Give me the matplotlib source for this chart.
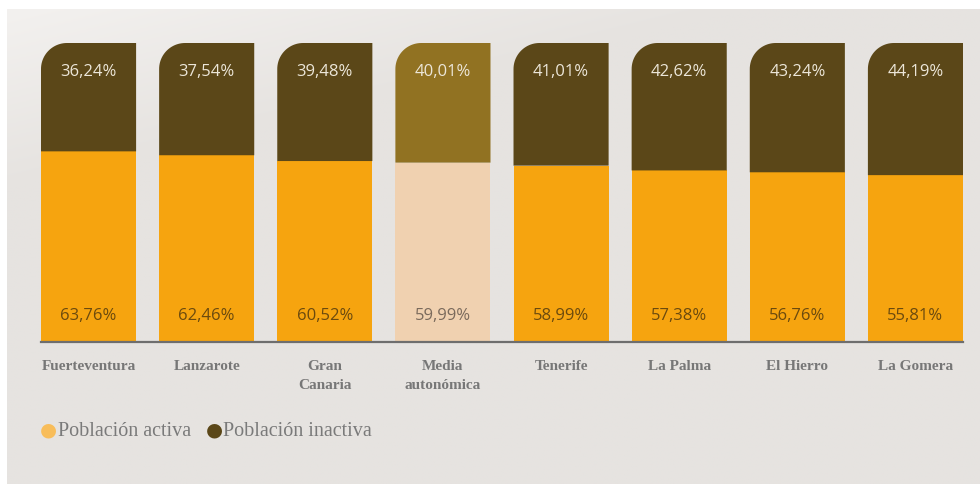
import matplotlib
matplotlib.use('Agg')
import matplotlib.pyplot as plt
import numpy as np
from matplotlib.patches import Polygon

# Datos
islas = ['Fuerteventura', 'Lanzarote', 'Gran\nCanaria', 'Media\nautonómica',
         'Tenerife', 'La Palma', 'El Hierro', 'La Gomera']
activa = [63.76, 62.46, 60.52, 59.99, 58.99, 57.38, 56.76, 55.81]
inactiva = [36.24, 37.54, 39.48, 40.01, 41.01, 42.62, 43.24, 44.19]
leyenda = ['Población activa', 'Población inactiva']

W, H = 980, 484
fig = plt.figure(figsize=(W / 100, H / 100), dpi=100)
fig.patch.set_facecolor('white')

# Fondo gris con un leve degradado
bg = fig.add_axes([7 / W, 0, 1 - 7 / W, (H - 9) / H])
gy, gx = np.mgrid[0:1:200j, 0:1:400j]
t = np.clip((gx * 0.6 + gy * 1.2) / 0.45, 0, 1)
c0 = np.array([0xf3, 0xf1, 0xef]) / 255
c1 = np.array([0xe6, 0xe3, 0xe0]) / 255
img = c0[None, None, :] * (1 - t[..., None]) + c1[None, None, :] * t[..., None]
bg.imshow(img, aspect='auto', extent=[0, 1, 0, 1], origin='upper')
bg.set_axis_off()

# Ejes principales
x0, x1 = 41, 963
ytop, ybase = 43, 342
ax = fig.add_axes([x0 / W, (H - ybase) / H, (x1 - x0) / W, (ybase - ytop) / H])
ax.patch.set_alpha(0)

x = np.arange(len(islas))
ancho = 95 / 118
ax.set_xlim(-ancho / 2, len(islas) - 1 + ancho / 2)
ax.set_ylim(0, 100)

col_act = ['#f6a40f'] * len(islas)
col_inact = ['#5b4718'] * len(islas)
col_act[3] = '#f0d1b0'
col_inact[3] = '#917222'

ax.bar(x, activa, width=ancho, color=col_act, edgecolor='none', zorder=2)
barras = ax.bar(x, inactiva, bottom=activa, width=ancho, color=col_inact,
                edgecolor='none', zorder=2)

# Esquina superior izquierda redondeada (radio en píxeles)
px_x = (x1 - x0) / (ax.get_xlim()[1] - ax.get_xlim()[0])
px_y = (ybase - ytop) / 100
r = 26
rx, ry = r / px_x, r / px_y
ang = np.linspace(np.pi, np.pi / 2, 24)
for b, c in zip(barras, col_inact):
    bx, by, bw, bh = b.get_x(), b.get_y(), b.get_width(), b.get_height()
    cx, cy = bx + rx, by + bh - ry
    arco = np.column_stack([cx + rx * np.cos(ang), cy + ry * np.sin(ang)])
    pts = np.vstack([[bx, by], arco, [bx + bw, by + bh], [bx + bw, by]])
    b.set_visible(False)
    ax.add_patch(Polygon(pts, closed=True, facecolor=c, edgecolor='none', zorder=2))

# Etiquetas de valores
for i in range(len(islas)):
    ax.text(x[i], 100 - 29 / px_y, f'{inactiva[i]:.2f}%'.replace('.', ','),
            ha='center', va='center', fontsize=12, family='Open Sans',
            color='#ece6d8', zorder=3)
    ax.text(x[i], 26 / px_y, f'{activa[i]:.2f}%'.replace('.', ','),
            ha='center', va='center', fontsize=12, family='Open Sans',
            color='#7a6a5c' if i == 3 else '#6b4a0e', zorder=3)

# Línea base
ax.axhline(0, color='#6e6e6e', lw=1.6, zorder=4, clip_on=False)

ax.set_xticks(x)
ax.set_xticklabels(islas, family='Liberation Serif', fontweight='bold',
                   fontsize=11, color='#777777', linespacing=1.55, va='top')
ax.tick_params(axis='x', length=0, pad=13)
ax.set_yticks([])
for s in ax.spines.values():
    s.set_visible(False)

# Leyenda
fig.text(48.5 / W, 1 - 430 / H, '●', fontsize=14, color='#f8bd5a',
         ha='center', va='center', family='DejaVu Sans')
fig.text(58 / W, 1 - 431 / H, leyenda[0], fontsize=14.5, color='#7a7a7a',
         ha='left', va='center', family='Liberation Serif')
fig.text(214 / W, 1 - 430 / H, '●', fontsize=14, color='#5b4718',
         ha='center', va='center', family='DejaVu Sans')
fig.text(223 / W, 1 - 431 / H, leyenda[1], fontsize=14.5, color='#7a7a7a',
         ha='left', va='center', family='Liberation Serif')

fig.savefig('out.png', dpi=100, facecolor='white')
